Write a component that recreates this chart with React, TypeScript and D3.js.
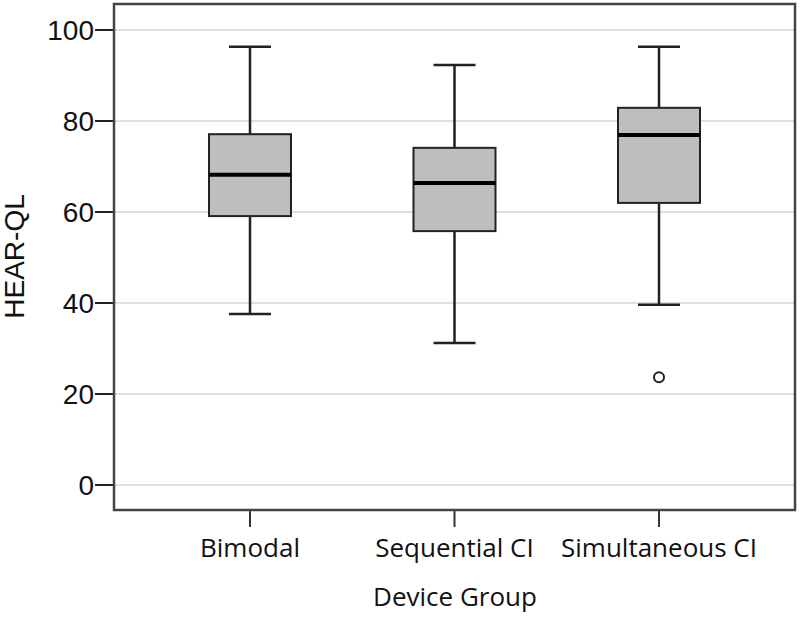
import React from "react";
import * as d3 from "d3";

const categories = ["Bimodal", "Sequential CI", "Simultaneous CI"];
const whiskerLow = [37.6, 31.2, 39.6];
const q1 = [59.1, 55.8, 62.0];
const median = [68.2, 66.4, 76.9];
const q3 = [77.1, 74.1, 82.9];
const whiskerHigh = [96.3, 92.3, 96.3];
const outliers = [{ group: "Simultaneous CI", value: 23.7 }];
const yTicks = [0, 20, 40, 60, 80, 100];

const W = 800;
const H = 621;
const left = 114;
const right = 795;
const top = 4;
const bottom = 510;

export default function App() {
  const y = d3.scaleLinear().domain([0, 100]).range([485, 30]);
  const x = d3.scalePoint<string>().domain(categories).range([left, right]).padding(0.665);
  const boxHalf = 41;
  const capHalf = 21;
  const sans = "'Open Sans', 'Noto Sans', sans-serif";
  const arial = "'Liberation Sans', Arial, sans-serif";

  return (
    <svg width={W} height={H} style={{ position: "absolute", left: 0, top: 0 }}>
      <rect x={0} y={0} width={W} height={H} fill="#fff" />
      {yTicks.map((t) => (
        <g key={t}>
          <line x1={left} x2={right} y1={y(t)} y2={y(t)} stroke="#d4d4d4" strokeWidth={1.5} />
          <line x1={95} x2={left} y1={y(t)} y2={y(t)} stroke="#222" strokeWidth={2} />
          <text x={94} y={y(t)} dy="0.36em" textAnchor="end" fontFamily={arial} fontSize={28} fill="#111">
            {t}
          </text>
        </g>
      ))}
      {categories.map((c, i) => {
        const cx = x(c)!;
        return (
          <g key={c}>
            <line x1={cx} x2={cx} y1={y(whiskerHigh[i])} y2={y(q3[i])} stroke="#222" strokeWidth={2.5} />
            <line x1={cx} x2={cx} y1={y(q1[i])} y2={y(whiskerLow[i])} stroke="#222" strokeWidth={2.5} />
            <line x1={cx - capHalf} x2={cx + capHalf} y1={y(whiskerHigh[i])} y2={y(whiskerHigh[i])} stroke="#222" strokeWidth={2.5} />
            <line x1={cx - capHalf} x2={cx + capHalf} y1={y(whiskerLow[i])} y2={y(whiskerLow[i])} stroke="#222" strokeWidth={2.5} />
            <rect
              x={cx - boxHalf}
              y={y(q3[i])}
              width={boxHalf * 2}
              height={y(q1[i]) - y(q3[i])}
              fill="#bebebe"
              stroke="#222"
              strokeWidth={2}
            />
            <line x1={cx - boxHalf} x2={cx + boxHalf} y1={y(median[i])} y2={y(median[i])} stroke="#000" strokeWidth={4} />
            <line x1={cx} x2={cx} y1={bottom} y2={bottom + 17} stroke="#333" strokeWidth={2} />
            <text x={cx} y={557} textAnchor="middle" fontFamily={sans} fontSize={26} fill="#111">
              {c}
            </text>
          </g>
        );
      })}
      {outliers.map((o, i) => (
        <circle key={i} cx={x(o.group)!} cy={y(o.value)} r={5} fill="#fff" stroke="#222" strokeWidth={2} />
      ))}
      <rect x={left} y={top} width={right - left} height={bottom - top} fill="none" stroke="#444" strokeWidth={2.5} />
      <text x={455} y={606} textAnchor="middle" fontFamily={sans} fontSize={26} fill="#111">
        Device Group
      </text>
      <text
        transform={`translate(24, 256.5) rotate(-90)`}
        textAnchor="middle"
        fontFamily={arial}
        fontSize={28}
        fill="#111"
      >
        HEAR-QL
      </text>
    </svg>
  );
}
